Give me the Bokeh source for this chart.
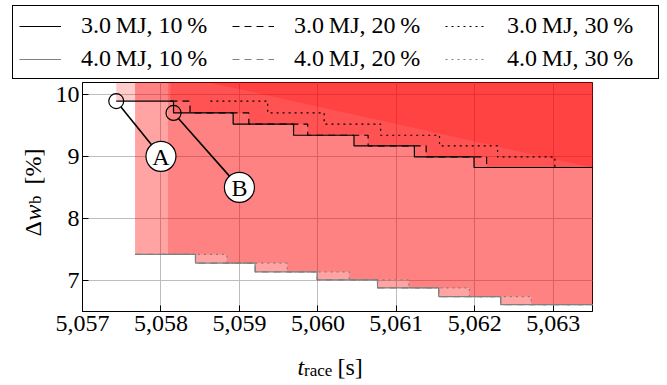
import numpy as np
from bokeh.plotting import figure
from bokeh.layouts import column, row
from bokeh.models import (Range1d, FixedTicker, NumeralTickFormatter, Legend,
                          LegendItem, Label)
from bokeh.core.properties import value
from bokeh.embed import file_html
from bokeh.resources import INLINE

# ---------------- data ----------------
# Pareto fronts (step functions): times where a new level starts, and levels
lvl_3MJ = [9.89, 9.70, 9.52, 9.34, 9.17, 8.99, 8.82]
t_3MJ_10 = [5057.43, 5058.16, 5058.92, 5059.69, 5060.46, 5061.23, 5061.99]
t_3MJ_20 = [5058.12, 5058.37, 5059.12, 5059.87, 5060.64, 5061.38, 5062.15]
t_3MJ_30 = [5058.63, 5059.36, 5060.08, 5060.80, 5061.55, 5062.29, 5063.02]
lvl_4MJ = [7.42, 7.28, 7.14, 7.01, 6.88, 6.74, 6.61]
t_4MJ_10 = [5057.67, 5058.44, 5059.20, 5059.99, 5060.76, 5061.54, 5062.33]
t_4MJ_20 = [5057.67, 5058.44, 5059.20, 5059.99, 5060.76, 5061.54, 5062.33]
t_4MJ_30 = [5058.09, 5058.84, 5059.61, 5060.40, 5061.16, 5061.93, 5062.72]
t_end = 5063.6
w_top = 10.6
# boundary of the dominated region for 3.0 MJ, 30 %
bound_30_t = [5058.0, 5063.6]
bound_30_w = [10.36, 8.79]

legend_labels = ["3.0\u2009MJ, 10\u2009%", "3.0\u2009MJ, 20\u2009%", "3.0\u2009MJ, 30\u2009%",
                 "4.0\u2009MJ, 10\u2009%", "4.0\u2009MJ, 20\u2009%", "4.0\u2009MJ, 30\u2009%"]
x_ticks = [5057, 5058, 5059, 5060, 5061, 5062, 5063]
y_ticks = [7, 8, 9, 10]
x_lim = (5057.0, 5063.5)
y_lim = (6.5, 10.19)
mark_names = ["A", "B"]
mark_label_t = [5058.0, 5059.0]
mark_label_w = [9.0, 8.5]

FONT = "Liberation Serif"
FS = "24px"
TOTAL_W = 667

# styles of the six series (colour, dash)
styles = [("black", "solid"), ("black", "7 5"), ("black", "2 4"),
          ("#808080", "solid"), ("#808080", "7 5"), ("#808080", "2 4")]


def bare(width, height):
    f = figure(width=width, height=height, x_range=Range1d(0, width), y_range=Range1d(0, height),
               x_axis_type=None, y_axis_type=None, min_border=0,
               min_border_left=0, min_border_right=0, min_border_top=0, min_border_bottom=0,
               output_backend="svg", toolbar_location=None)
    f.outline_line_color = None
    f.background_fill_color = "white"
    f.border_fill_color = "white"
    return f


def lab(f, text, x, y, size=FS, style="normal", angle=0.0):
    f.add_layout(Label(x=x, y=y, x_units="screen", y_units="screen", text=text,
                       text_font=FONT, text_font_size=size, text_font_style=style,
                       text_color="black", text_align="left", text_baseline="alphabetic",
                       angle=angle))


# ---------------- legend figure ----------------
LEG_H = 80
leg_fig = bare(TOTAL_W, LEG_H)
leg_renderers = [leg_fig.line([-20, -10], [-20, -20], line_color=c, line_width=1.2, line_dash=d)
                 for c, d in styles]
items = [LegendItem(label=lab_, renderers=[r]) for lab_, r in zip(legend_labels, leg_renderers)]
legend = Legend(items=items, orientation="horizontal", ncols=3, location=(12, 1),
                padding=6, spacing=6, margin=0, glyph_width=42, glyph_height=24,
                label_height=24, label_width=145, label_standoff=20,
                label_text_font=FONT, label_text_font_size=FS, label_text_color="black",
                border_line_color="black", border_line_width=1, border_line_alpha=1.0,
                background_fill_color="white", background_fill_alpha=1.0)
leg_fig.add_layout(legend, "center")

# ---------------- main figure ----------------
FW, FH = 510, 229
YLAB_W = 52
BL, BT, BB = 82 - YLAB_W, 2, 38
BR = TOTAL_W - YLAB_W - BL - FW
p = figure(frame_width=FW, frame_height=FH,
           min_border_left=BL, min_border_top=BT, min_border_right=BR, min_border_bottom=BB,
           x_range=Range1d(*x_lim), y_range=Range1d(*y_lim),
           output_backend="svg", toolbar_location=None)
p.background_fill_color = "white"
p.border_fill_color = "white"
p.outline_line_color = "black"
p.outline_line_alpha = 1.0
p.outline_line_width = 1

for ax in (p.xaxis[0], p.yaxis[0]):
    ax.axis_line_color = "black"
    ax.major_tick_line_color = "black"
    ax.major_tick_in = 6
    ax.major_tick_out = 0
    ax.minor_tick_line_color = None
    ax.major_label_text_font = FONT
    ax.major_label_text_font_size = FS
    ax.major_label_text_color = "black"
p.xaxis.ticker = FixedTicker(ticks=x_ticks)
p.xaxis.formatter = NumeralTickFormatter(format="0,0")
p.xaxis.major_label_standoff = 4
p.yaxis.ticker = FixedTicker(ticks=y_ticks)
p.yaxis.major_label_standoff = 3
p.xgrid.ticker = FixedTicker(ticks=x_ticks)
p.ygrid.ticker = FixedTicker(ticks=y_ticks)
for g in (p.xgrid[0], p.ygrid[0]):
    g.grid_line_color = "#bdbdbd"
    g.grid_line_width = 1


def step_path(t, w):
    xs, ys = [], []
    for i in range(len(t)):
        if i > 0:
            xs.append(t[i]); ys.append(w[i - 1])
        xs.append(t[i]); ys.append(w[i])
    xs.append(t_end); ys.append(w[-1])
    return xs, ys


def region(t, w):
    xs, ys = step_path(t, w)
    return xs + [t_end, t[0]], ys + [w_top, w_top]


# dominated regions
fills = [region(t_4MJ_10, lvl_4MJ), region(t_4MJ_20, lvl_4MJ), region(t_4MJ_30, lvl_4MJ),
         region(t_3MJ_10, lvl_3MJ), region(t_3MJ_20, lvl_3MJ),
         (bound_30_t + [bound_30_t[1], bound_30_t[0]], bound_30_w + [w_top, w_top])]
p.patches([f[0] for f in fills], [f[1] for f in fills],
          fill_color="red", fill_alpha=0.2, line_color=None)

# front lines
fronts = [(t_3MJ_10, lvl_3MJ), (t_3MJ_20, lvl_3MJ), (t_3MJ_30, lvl_3MJ),
          (t_4MJ_10, lvl_4MJ), (t_4MJ_20, lvl_4MJ), (t_4MJ_30, lvl_4MJ)]
for (t, w), (c, d) in zip(fronts, styles):
    xs, ys = step_path(t, w)
    p.line(xs, ys, line_color=c, line_width=1.2, line_dash=d)

# annotations A, B
mark_t = [t_3MJ_10[0], t_3MJ_10[1]]
mark_w = [lvl_3MJ[0], lvl_3MJ[1]]
sx = FW / (x_lim[1] - x_lim[0])
sy = FH / (y_lim[1] - y_lim[0])
r_small, r_big = 7.5, 15.0
x0s, y0s, x1s, y1s = [], [], [], []
for mt, mw, lt, lw in zip(mark_t, mark_w, mark_label_t, mark_label_w):
    dx, dy = (lt - mt) * sx, (lw - mw) * sy
    L = np.hypot(dx, dy)
    ux, uy = dx / L, dy / L
    x0s.append(mt + ux * r_small / sx); y0s.append(mw + uy * r_small / sy)
    x1s.append(lt - ux * r_big / sx); y1s.append(lw - uy * r_big / sy)
p.segment(x0s, y0s, x1s, y1s, line_color="black", line_width=1.6)
p.scatter(mark_t, mark_w, marker="circle", size=2 * r_small, fill_color=None,
          line_color="black", line_width=1.2)
p.scatter(mark_label_t, mark_label_w, marker="circle", size=2 * r_big, fill_color="white",
          line_color="black", line_width=1.2)
p.text(mark_label_t, mark_label_w, text=mark_names, text_font=value(FONT),
       text_font_size=value(FS), text_align="center", text_baseline="middle",
       text_color="black", y_offset=1)

# ---------------- y label figure ----------------
MID_H = BT + FH + BB
ylab_fig = bare(YLAB_W, MID_H)
A90 = np.pi / 2
lab(ylab_fig, "\u0394", 32, 75, angle=A90)
lab(ylab_fig, "w", 32, 91, style="italic", angle=A90)
lab(ylab_fig, "b", 35, 107.5, size="17px", angle=A90)
lab(ylab_fig, "[%]", 32, 127, angle=A90)

# ---------------- x label figure ----------------
XLAB_H = 385 - LEG_H - MID_H
xlab_fig = bare(TOTAL_W, XLAB_H)
lab(xlab_fig, "t", 297, 18.5, style="italic")
lab(xlab_fig, "race", 303.5, 15.5, size="17px")
lab(xlab_fig, "[s]", 337, 18.5)

layout = column(leg_fig, row(ylab_fig, p, spacing=0), xlab_fig, spacing=0)
open("out.html", "w").write(file_html(layout, INLINE))
